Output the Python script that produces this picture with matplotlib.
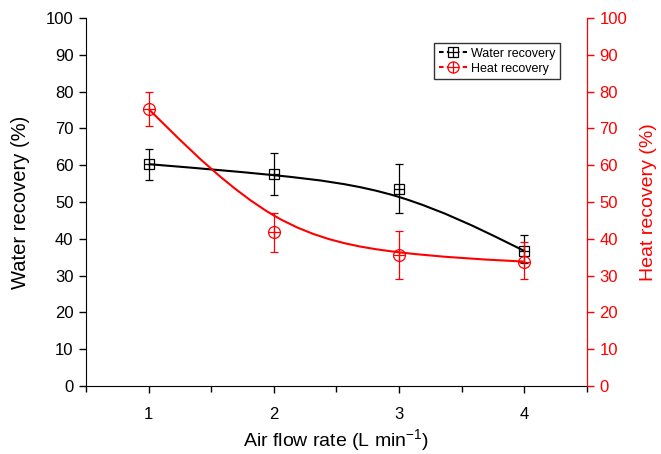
import matplotlib
matplotlib.use("Agg")
import matplotlib.pyplot as plt
import numpy as np
from matplotlib.lines import Line2D
from matplotlib.path import Path
from matplotlib.patches import PathPatch

plt.rcParams['font.family'] = ['Liberation Sans', 'DejaVu Sans']
plt.rcParams['mathtext.fontset'] = 'custom'
plt.rcParams['mathtext.rm'] = 'Liberation Sans'
plt.rcParams['mathtext.default'] = 'regular'

# data
flow = np.array([1, 2, 3, 4])
water = np.array([60.3, 57.5, 53.5, 36.7])
water_lo = np.array([56.0, 52.0, 47.0, 33.5])
water_hi = np.array([64.5, 63.3, 60.3, 41.0])
heat = np.array([75.3, 41.8, 35.6, 33.8])
heat_lo = np.array([70.7, 36.5, 29.0, 29.0])
heat_hi = np.array([80.0, 47.0, 42.0, 39.0])


def bspline_patch(x, y, color):
    # uniform cubic B-spline, data points as control points (ends tripled)
    pts = np.column_stack([x, y]).astype(float)
    q = np.vstack([pts[0], pts[0], pts] + [pts[-1], pts[-1]])
    verts, codes = [], []
    for i in range(len(q) - 3):
        a, b, c, d = q[i:i + 4]
        b0 = (a + 4 * b + c) / 6
        if i == 0:
            verts.append(b0)
            codes.append(Path.MOVETO)
        verts += [(2 * b + c) / 3, (b + 2 * c) / 3, (b + 4 * c + d) / 6]
        codes += [Path.CURVE4] * 3
    return PathPatch(Path(verts, codes), fill=False, edgecolor=color, lw=1.5)


fig = plt.figure(figsize=(6.61, 4.54), dpi=100)
ax1 = fig.add_axes([0.130, 0.150, 0.758, 0.810])
ax2 = ax1.twinx()

# water
ax1.add_patch(bspline_patch(flow, water, "black"))
ax1.errorbar(flow, water, yerr=[water - water_lo, water_hi - water], fmt="none",
             ecolor="black", elinewidth=0.9, capsize=3, capthick=0.9)
ax1.plot(flow, water, ls="none", marker="s", ms=7.5, mfc="none", mec="black", mew=0.9)
ax1.plot(flow, water, ls="none", marker="+", ms=7.5, mec="black", mew=0.9)

# heat
ax2.add_patch(bspline_patch(flow, heat, "red"))
ax2.errorbar(flow, heat, yerr=[heat - heat_lo, heat_hi - heat], fmt="none",
             ecolor="red", elinewidth=0.9, capsize=3, capthick=0.9)
ax2.plot(flow, heat, ls="none", marker="o", ms=8.5, mfc="none", mec="red", mew=0.9)
ax2.plot(flow, heat, ls="none", marker="+", ms=8.5, mec="red", mew=0.9)

ax1.set_xlim(0.5, 4.5)
ax1.set_ylim(0, 100)
ax2.set_ylim(0, 100)
ax1.set_xticks([1, 2, 3, 4])
ax1.set_xticks([0.5, 1.5, 2.5, 3.5, 4.5], minor=True)
ax1.set_yticks(np.arange(0, 101, 10))
ax2.set_yticks(np.arange(0, 101, 10))

ax1.tick_params(axis="both", direction="out", length=5, width=1, labelsize=12, pad=4)
ax1.tick_params(axis="x", which="minor", direction="out", length=4, width=1)
ax1.tick_params(axis="x", pad=10)
ax2.tick_params(axis="y", direction="out", length=5, width=1, labelsize=12,
                colors="red", pad=4)

for a in (ax1, ax2):
    a.spines["top"].set_visible(False)
ax2.spines["right"].set_color("red")
ax2.spines["left"].set_visible(False)
ax2.spines["bottom"].set_visible(False)

ax1.set_xlabel("Air flow rate (L min$^{-1}$)", fontsize=14, labelpad=4)
ax1.set_ylabel("Water recovery (%)", fontsize=14.5, labelpad=11)
ax2.set_ylabel("Heat recovery (%)", fontsize=14, color="red", labelpad=9)

# legend
h1 = (Line2D([], [], color="black", ls=(0, (2.2, 1.6)), lw=1.5, marker="s", ms=7,
             mfc="white", mec="black", mew=0.9),
      Line2D([], [], ls="none", marker="+", ms=7, mec="black", mew=0.9))
h2 = (Line2D([], [], color="red", ls=(0, (2.2, 1.6)), lw=1.5, marker="o", ms=8,
             mfc="white", mec="red", mew=0.9),
      Line2D([], [], ls="none", marker="+", ms=8, mec="red", mew=0.9))
leg = ax2.legend([h1, h2], ["Water recovery", "Heat recovery"],
                 loc="upper left", bbox_to_anchor=(0.695, 0.932), borderaxespad=0,
                 fontsize=9, frameon=True, fancybox=False, edgecolor="black",
                 handlelength=2.3, borderpad=0.35, labelspacing=0.25,
                 handletextpad=0.3)
leg.get_frame().set_linewidth(1)

fig.savefig("out.png", dpi=100)
